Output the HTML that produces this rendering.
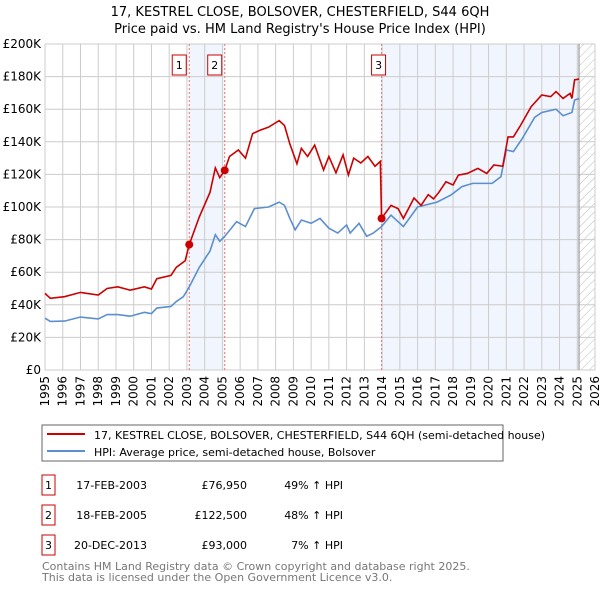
<!DOCTYPE html>
<html><head><meta charset="utf-8"><style>
body{margin:0;background:#fff;font-family:"Liberation Sans","DejaVu Sans",sans-serif}
svg text{font-family:"DejaVu Sans","Liberation Sans",sans-serif}
</style></head><body>
<svg id="c" width="600" height="590" xmlns="http://www.w3.org/2000/svg">
<defs><pattern id="hatch" patternUnits="userSpaceOnUse" width="6" height="6" patternTransform="rotate(45)"><line x1="0" y1="0" x2="0" y2="6" stroke="#bbb" stroke-width="1"/></pattern></defs>
<text x="300" y="16" text-anchor="middle" font-size="13">17, KESTREL CLOSE, BOLSOVER, CHESTERFIELD, S44 6QH</text>
<text x="300" y="33" text-anchor="middle" font-size="13">Price paid vs. HM Land Registry's House Price Index (HPI)</text>
<g id="plot"></g>
<rect x="42" y="425" width="461" height="36" fill="#fff" stroke="#666"/>
<line x1="47" y1="434" x2="85" y2="434" stroke="#cc0000" stroke-width="2"/>
<text x="94" y="439" font-size="11">17, KESTREL CLOSE, BOLSOVER, CHESTERFIELD, S44 6QH (semi-detached house)</text>
<line x1="47" y1="451" x2="85" y2="451" stroke="#5b8fd0" stroke-width="2"/>
<text x="94" y="456" font-size="11">HPI: Average price, semi-detached house, Bolsover</text>
<g font-size="11">
<rect x="42" y="475" width="13" height="20" fill="#fff" stroke="#cc0000"/><text x="48.5" y="489" text-anchor="middle">1</text>
<text x="147" y="489" text-anchor="end">17-FEB-2003</text><text x="247" y="489" text-anchor="end">£76,950</text><text x="343" y="489" text-anchor="end">49% ↑ HPI</text>
<rect x="42" y="505" width="13" height="20" fill="#fff" stroke="#cc0000"/><text x="48.5" y="519" text-anchor="middle">2</text>
<text x="147" y="519" text-anchor="end">18-FEB-2005</text><text x="247" y="519" text-anchor="end">£122,500</text><text x="343" y="519" text-anchor="end">48% ↑ HPI</text>
<rect x="42" y="535" width="13" height="20" fill="#fff" stroke="#cc0000"/><text x="48.5" y="549" text-anchor="middle">3</text>
<text x="147" y="549" text-anchor="end">20-DEC-2013</text><text x="247" y="549" text-anchor="end">£93,000</text><text x="343" y="549" text-anchor="end">7% ↑ HPI</text>
</g>
<text x="42" y="570" font-size="11" fill="#777">Contains HM Land Registry data © Crown copyright and database right 2025.</text>
<text x="42" y="581" font-size="11" fill="#777">This data is licensed under the Open Government Licence v3.0.</text>
</svg>
<script>
const yearTicks=[1995,1996,1997,1998,1999,2000,2001,2002,2003,2004,2005,2006,2007,2008,2009,2010,2011,2012,2013,2014,2015,2016,2017,2018,2019,2020,2021,2022,2023,2024,2025,2026];
const valueTicks=[0,20,40,60,80,100,120,140,160,180,200];
const valueLabels=["£0","£20K","£40K","£60K","£80K","£100K","£120K","£140K","£160K","£180K","£200K"];
const hpiT=[1995,1995.3,1996.1,1997,1998,1998.5,1999.1,1999.8,2000.6,2001,2001.3,2002.1,2002.4,2002.8,2003.13,2003.7,2004.3,2004.6,2004.85,2005.13,2005.8,2006.3,2006.8,2007.6,2008.2,2008.5,2008.8,2009.1,2009.45,2010,2010.5,2011,2011.5,2012,2012.2,2012.7,2013.13,2013.5,2013.97,2014.5,2015.2,2016,2017.1,2017.9,2018.5,2019.1,2020.2,2020.7,2021.0,2021.4,2021.9,2022.6,2023.0,2023.8,2024.2,2024.7,2024.85,2025.1];
const hpiV=[31.8,29.8,30,32.5,31.3,34,34,33,35.4,34.6,38,39,42,45,51,63,73,83,79,82,91,88,99,100,103,101,93,86,92,90,93,87,84,89,84,90,82,84,88,95,88,100,103,107.5,112.5,114.5,114.5,118.6,135,134,142,155,158,160,156,158,165.6,166.6];
const priceT=[1995,1995.3,1996.1,1997,1998,1998.5,1999.1,1999.8,2000.6,2001,2001.3,2002.1,2002.4,2002.9,2003.13,2003.7,2004.3,2004.6,2004.85,2005.13,2005.4,2005.9,2006.3,2006.7,2007.1,2007.6,2008.2,2008.5,2008.8,2009.2,2009.45,2009.8,2010.2,2010.7,2011.0,2011.4,2011.8,2012.1,2012.4,2012.8,2013.2,2013.6,2013.9,2013.97,2014.5,2014.9,2015.2,2015.8,2016.2,2016.6,2016.9,2017.2,2017.6,2018,2018.3,2018.8,2019.4,2019.9,2020.3,2020.8,2021.1,2021.4,2021.8,2022.4,2023.0,2023.5,2023.8,2024.2,2024.6,2024.7,2024.85,2025.1];
const priceV=[47,44,45,47.6,46,50,51,49,51,49.7,56,58,63,67,76.95,94,109,124,118,122.5,131,135,130,145,147,149,153,150,138.7,126.5,136,131,138,122.7,131,121,132,119.6,130,127,131,125,128,93,101,99,93,105.5,101,107.6,105,109,115.5,113.5,119.6,120.6,123.7,120.6,125.8,125,143,143,150,161.5,168.7,167.7,170.8,166.6,169.7,166.6,178,178.5];
const saleT=[2003.13,2005.13,2013.97];
const saleV=[76.95,122.5,93];
const saleLabels=["1","2","3"];
const X0=45,X1=595,Y0=370,Y1=44;
const xs=t=>X0+(t-1995)/(2026-1995)*(X1-X0);
const ys=v=>Y0-v/200*(Y0-Y1);
const NS="http://www.w3.org/2000/svg";
const g=document.getElementById('plot');
function mk(tag,a){const e=document.createElementNS(NS,tag);for(const k in a)e.setAttribute(k,a[k]);g.appendChild(e);return e;}
let e;
e=mk('rect',{x:xs(saleT[0]),y:Y1,width:xs(saleT[1])-xs(saleT[0]),height:Y0-Y1,fill:'#eef3fc',opacity:0.8});


e=mk('rect',{x:xs(saleT[2]),y:Y1,width:xs(2025.1)-xs(saleT[2]),height:Y0-Y1,fill:'#eef3fc',opacity:0.8});


e=mk('rect',{x:xs(2025.1),y:Y1,width:X1-xs(2025.1),height:Y0-Y1,fill:'url(#hatch)'});


yearTicks.forEach((t,i)=>{
  e=mk('line',{x1:xs(t),x2:xs(t),y1:Y1,y2:Y0,stroke:'#ccc','stroke-width':1});
  
  
  e=mk('text',{x:0,y:0,'font-size':12,'text-anchor':'end',transform:`translate(${xs(t)+4},${Y0+6}) rotate(-90)`});
  e.textContent=t;
  
  
});
valueTicks.forEach((v,i)=>{
  e=mk('line',{x1:X0,x2:X1,y1:ys(v),y2:ys(v),stroke:'#ccc','stroke-width':1});
  
  
  e=mk('text',{x:X0-4,y:ys(v)+4,'font-size':12,'text-anchor':'end'});
  e.textContent=valueLabels[i];
  
  
});
e=mk('line',{x1:xs(2025.1),x2:xs(2025.1),y1:Y1,y2:Y0,stroke:'#888','stroke-width':1});


saleT.forEach((t,i)=>{
  e=mk('line',{x1:xs(t),x2:xs(t),y1:Y1,y2:Y0,stroke:'#f07070','stroke-width':1,'stroke-dasharray':'2,2'});
  
  
});
e=mk('polyline',{points:hpiT.map((t,i)=>xs(t)+','+ys(hpiV[i])).join(' '),fill:'none',stroke:'#5b8fd0','stroke-width':1.6});


e=mk('polyline',{points:priceT.map((t,i)=>xs(t)+','+ys(priceV[i])).join(' '),fill:'none',stroke:'#cc0000','stroke-width':1.6});


saleT.forEach((t,i)=>{
  e=mk('circle',{cx:xs(t),cy:ys(saleV[i]),r:4,fill:'#cc0000'});
  
  
  const bx=xs(t)-(i==2?3:10);
  e=mk('rect',{x:bx-7,y:55,width:14,height:20,fill:'#fff',stroke:'#cc0000'});
  
  
  e=mk('text',{x:bx,y:69,'font-size':11,'text-anchor':'middle'});
  e.textContent=saleLabels[i];
  
  
});
</script>
</body></html>
